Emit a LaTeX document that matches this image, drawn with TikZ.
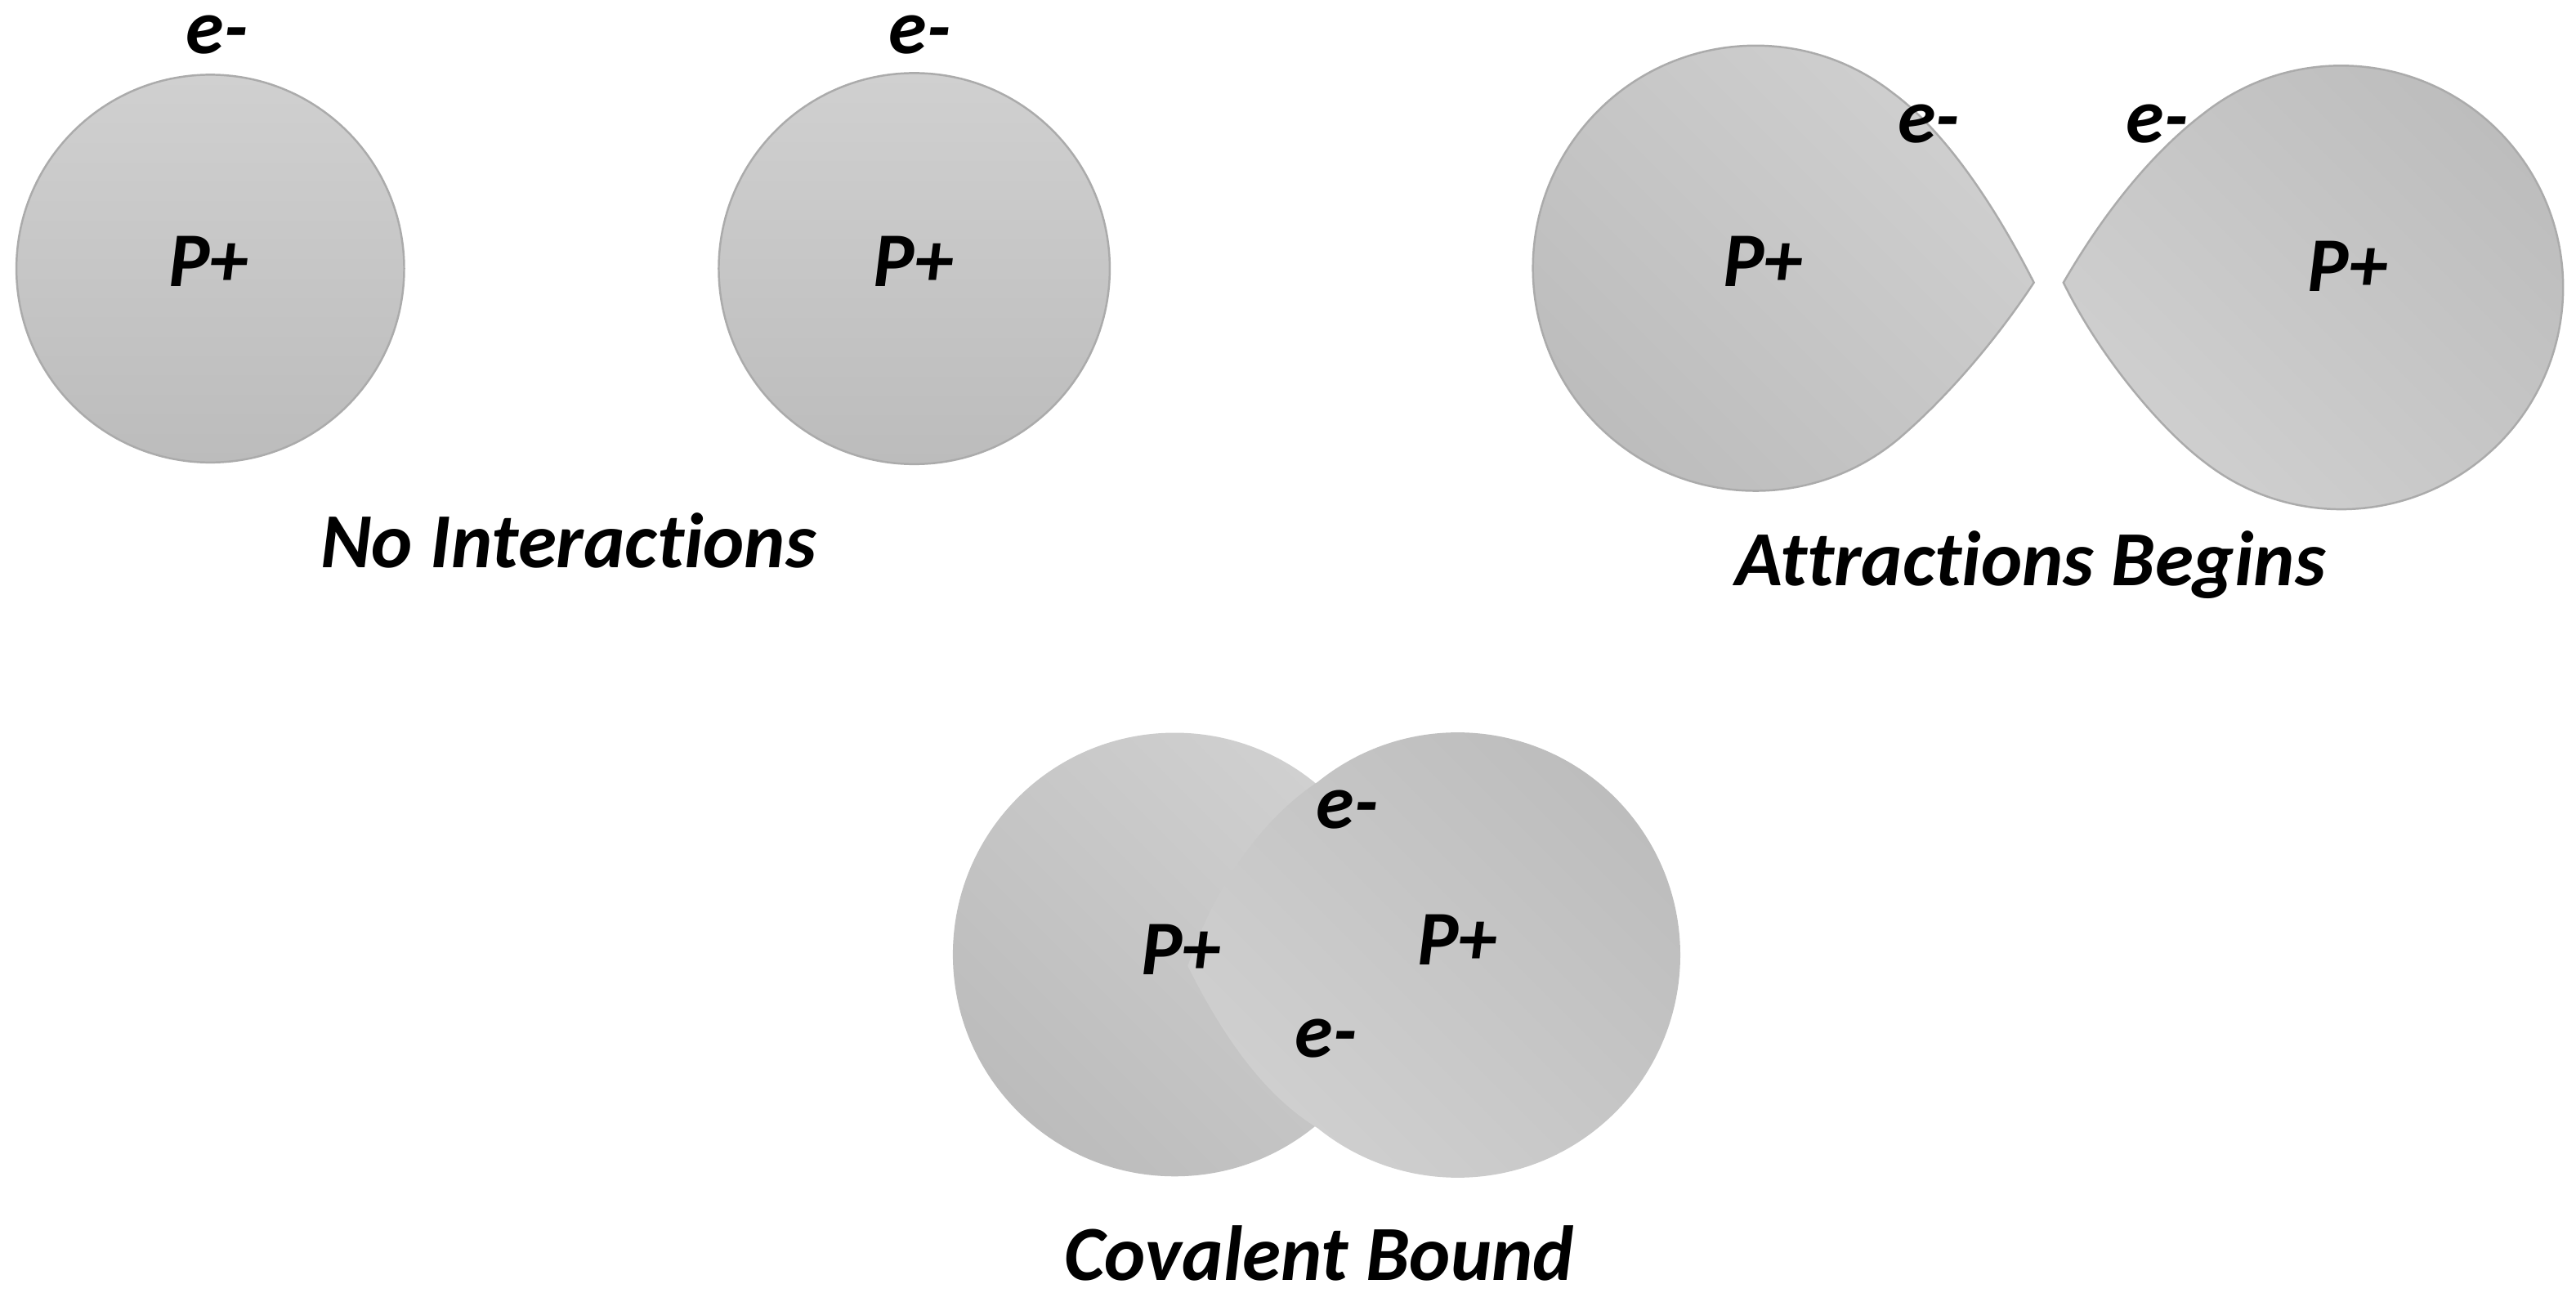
\documentclass[tikz,border=0pt]{standalone}
\usepackage{fontspec}
\setmainfont[Ligatures=NoCommon]{Carlito}
\usetikzlibrary{calc,positioning}
\definecolor{pale}{HTML}{D0D0D0}
\definecolor{dark}{HTML}{BCBCBC}
\definecolor{rim}{HTML}{ABABAB}

\begin{document}
\begin{tikzpicture}
\tikzset{atome/.style={top color=pale,bottom color=dark,draw=rim,line width=0.35pt}, %contour fin
nuage/.style={atome,shading angle=-45},
nuageb/.style={top color=dark,bottom color=pale,draw=rim,line width=0.35pt,shading angle=-45},
charge/.style={font=\fontsize{13.4}{15}\selectfont\bfseries\itshape,inner sep=0pt,text=black},
titre/.style={font=\fontsize{13.5}{15}\selectfont\bfseries\itshape,inner sep=0pt,text=black}}
\useasboundingbox (0,0) rectangle (15.68,7.92);
%pas d'interaction
\path[atome] (1.28,6.285) circle (1.18);
\path[atome] (5.565,6.285) circle (1.19);
\node[charge] (e1) at (1.32,7.71) {e-};
\node[charge] (e2) at (5.60,7.71) {e-};
\node[charge] (p1) at (1.27,6.33) {P+};
\node[charge] (p2) at (5.56,6.33) {P+};
\node[titre] (t1) at (3.46,4.63) {No Interactions};
%attraction
\path[nuage] (12.38,6.20) .. controls (12.1,6.75) and (11.8,7.15) .. (11.52,7.355) arc[start angle=52,end angle=310,radius=1.355] .. controls (11.85,5.5) and (12.15,5.85) .. cycle;
\path[nuageb] (12.56,6.20) .. controls (12.85,6.7) and (13.15,7.03) .. (13.42,7.234) arc[start angle=128,end angle=-128,radius=1.35] .. controls (13.15,5.31) and (12.78,5.75) .. cycle;
\node[charge] (e3) at (11.74,7.165) {e-};
\node[charge] (e4) at (13.13,7.165) {e-};
\node[charge] (p3) at (10.73,6.33) {P+};
\node[charge] (p4) at (14.29,6.30) {P+};
\node[titre] (t2) at (12.36,4.48) {Attractions Begins};
%liaison
\path[nuage,draw=none] (7.15,2.11) circle (1.35);
\path[nuageb,draw=none] (7.23,2.04) .. controls (7.4,2.55) and (7.7,2.95) .. (8.02,3.16) arc[start angle=129,end angle=-129,radius=1.355] .. controls (7.7,1.25) and (7.45,1.6) .. cycle;
\node[charge] (e5) at (8.20,2.99) {e-};
\node[charge] (e6) at (8.07,1.60) {e-};
\node[charge] (p5) at (7.19,2.14) {P+};
\node[charge] (p6) at (8.87,2.20) {P+};
\node[titre] (t3) at (8.03,0.29) {Covalent Bound};
\end{tikzpicture}
\end{document}
